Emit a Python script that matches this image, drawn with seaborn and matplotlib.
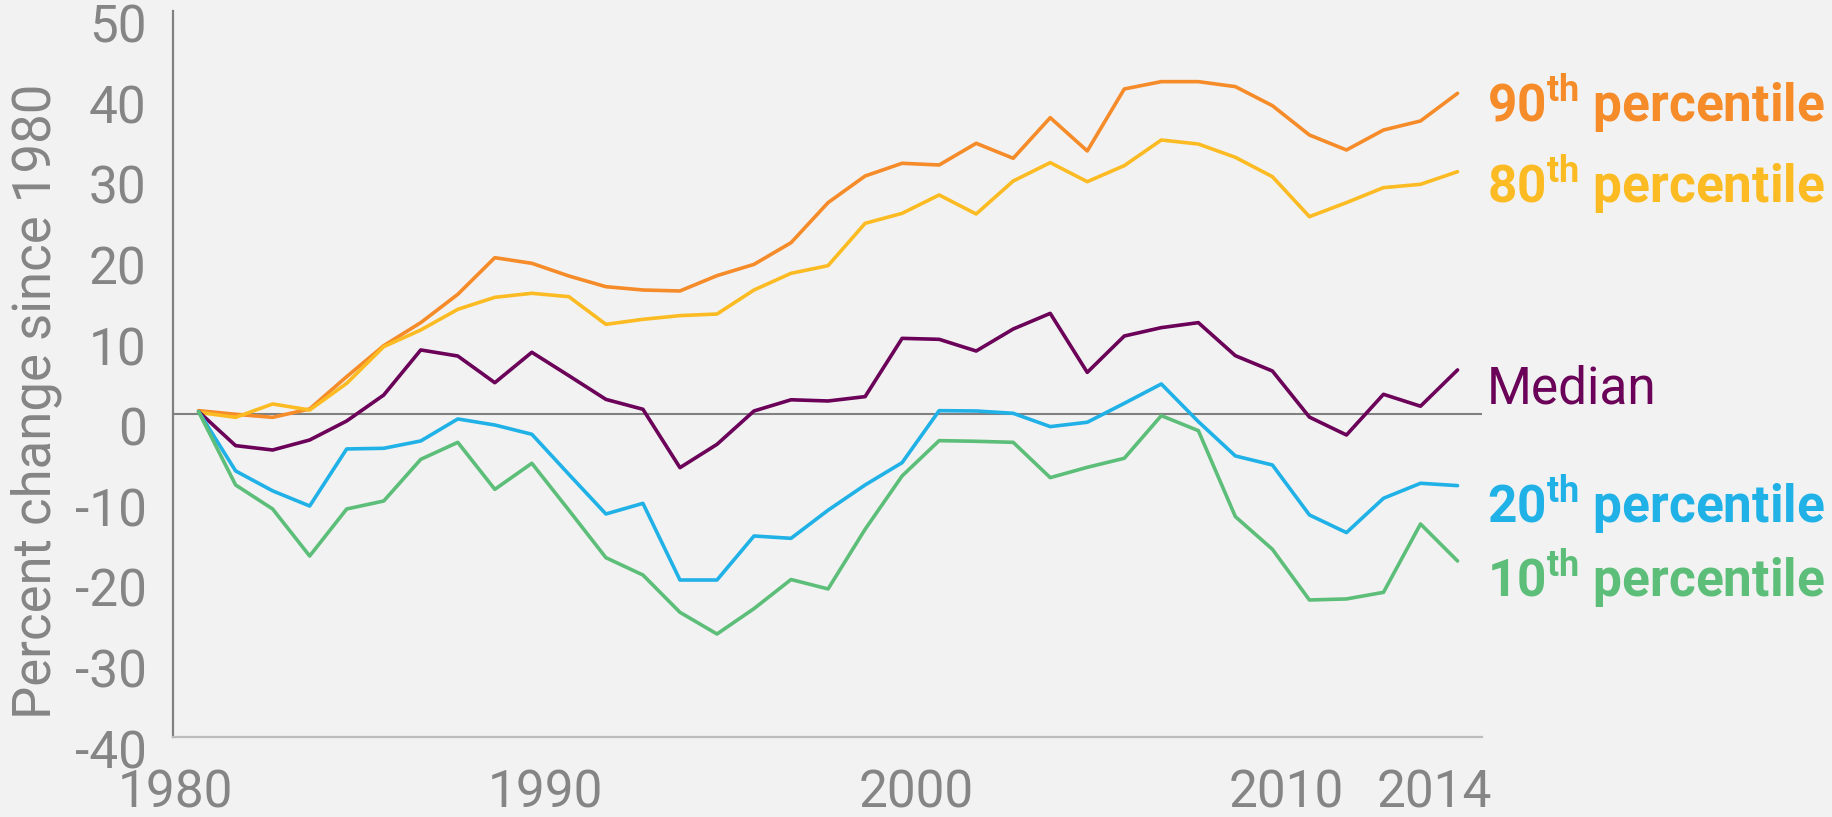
import numpy as np
import pandas as pd
import seaborn as sns
import matplotlib.pyplot as plt
from matplotlib.transforms import ScaledTranslation

years = list(range(1980, 2015))

p90 = [0.45, 0.0, -0.38, 0.66, 4.67, 8.51, 11.37, 14.88, 19.43, 18.73,
       17.16, 15.83, 15.42, 15.3, 17.2, 18.6, 21.29, 26.26, 29.56, 31.14,
       30.93, 33.62, 31.76, 36.8, 32.67, 40.36, 41.27, 41.27, 40.65, 38.29,
       34.65, 32.79, 35.27, 36.39, 39.82]
p80 = [0.24, -0.38, 1.28, 0.53, 3.84, 8.39, 10.46, 13.02, 14.51, 15.01,
       14.59, 11.16, 11.78, 12.24, 12.44, 15.42, 17.49, 18.44, 23.69, 24.93,
       27.21, 24.85, 28.94, 31.22, 28.86, 30.85, 34.03, 33.53, 31.88, 29.48,
       24.52, 26.26, 28.12, 28.53, 30.1]
median = [0.33, -3.89, -4.43, -3.19, -0.83, 2.39, 7.98, 7.23, 3.92, 7.69,
          4.79, 1.85, 0.62, -6.62, -3.73, 0.41, 1.8, 1.65, 2.19, 9.42,
          9.3, 7.85, 10.58, 12.52, 5.2, 9.71, 10.75, 11.37, 7.27, 5.37,
          -0.35, -2.57, 2.48, 1.0, 5.5]
p20 = [0.33, -7.03, -9.5, -11.38, -4.3, -4.22, -3.31, -0.58, -1.33, -2.48,
       -7.45, -12.37, -11.05, -20.56, -20.56, -15.1, -15.39, -11.9, -8.77, -6.0,
       0.45, 0.41, 0.12, -1.53, -0.99, 1.36, 3.76, -0.91, -5.17, -6.29,
       -12.49, -14.68, -10.42, -8.56, -8.85]
p10 = [0.33, -8.77, -11.75, -17.58, -11.75, -10.76, -5.59, -3.48, -9.31, -6.08,
       -11.9, -17.79, -19.94, -24.57, -27.26, -24.11, -20.5, -21.67, -14.27, -7.65,
       -3.27, -3.35, -3.48, -7.86, -6.58, -5.46, -0.17, -2.03, -12.7, -16.75,
       -23.04, -22.91, -22.09, -13.61, -18.2]

series_names = ["90th", "80th", "Median", "20th", "10th"]
series_values = [p90, p80, median, p20, p10]
series_labels = ["90$^{\\rm th}$ percentile", "80$^{\\rm th}$ percentile", "Median",
                 "20$^{\\rm th}$ percentile", "10$^{\\rm th}$ percentile"]
colors = ["#F68B29", "#FDBB23", "#6A0057", "#20B1E7", "#5CBE78"]

xticks = [1980, 1990, 2000, 2010, 2014]
yticks = [-40, -30, -20, -10, 0, 10, 20, 30, 40, 50]

df = pd.DataFrame({
    "year": years * len(series_names),
    "change": np.concatenate(series_values),
    "series": np.repeat(series_names, len(years)),
})

bg = "#F2F2F2"
sns.set_style("white", {"axes.facecolor": bg, "figure.facecolor": bg})
plt.rcParams["font.family"] = ["Roboto", "DejaVu Sans"]
plt.rcParams["axes.unicode_minus"] = False
plt.rcParams["mathtext.fontset"] = "custom"
plt.rcParams["mathtext.rm"] = "Roboto:bold"
plt.rcParams["mathtext.bf"] = "Roboto:bold"
plt.rcParams["mathtext.it"] = "Roboto:bold"

fig = plt.figure(figsize=(18.33, 8.17), dpi=100)
ax = fig.add_axes([0.0944, 0.0983, 0.8085 - 0.0944, 0.9862 - 0.0983])

ax.axhline(0, color="#808080", linewidth=1.5, zorder=1)

sns.lineplot(data=df, x="year", y="change", hue="series",
             hue_order=series_names, palette=colors, linewidth=2.6,
             legend=False, ax=ax, zorder=3)

ax.set_xlim(1979.31, 2014.66)
ax.set_ylim(-40, 50)
ax.set_xticks(xticks)
ax.set_yticks(yticks)
ax.tick_params(axis="both", length=0, colors="#858585", labelsize=37)
ax.tick_params(axis="x", pad=23)
ax.tick_params(axis="y", pad=19)

for lab in ax.get_xticklabels():
    lab.set_transform(lab.get_transform() + ScaledTranslation(-0.23, 0, fig.dpi_scale_trans))
for lab in ax.get_yticklabels():
    lab.set_transform(lab.get_transform() + ScaledTranslation(0, -0.12, fig.dpi_scale_trans))

for side in ["top", "right"]:
    ax.spines[side].set_visible(False)
ax.spines["left"].set_color("#808080")
ax.spines["left"].set_linewidth(1.6)
ax.spines["bottom"].set_color("#BDBDBD")
ax.spines["bottom"].set_linewidth(1.6)

ax.set_xlabel("")
ax.set_ylabel("Percent change since 1980", fontsize=38, color="#858585")
ax.yaxis.set_label_coords(-0.085, 0.463)

label_dy = [-21, -23, -24, -27, -26]
for vals, text, col, dy in zip(series_values, series_labels, colors, label_dy):
    weight = "normal" if text == "Median" else "bold"
    ax.annotate(text, xy=(years[-1], vals[-1]), xytext=(21, dy),
                textcoords="offset points", color=col, fontsize=37,
                fontweight=weight, ha="left", va="baseline",
                annotation_clip=False)

fig.savefig("out.png", dpi=100, facecolor=bg)
